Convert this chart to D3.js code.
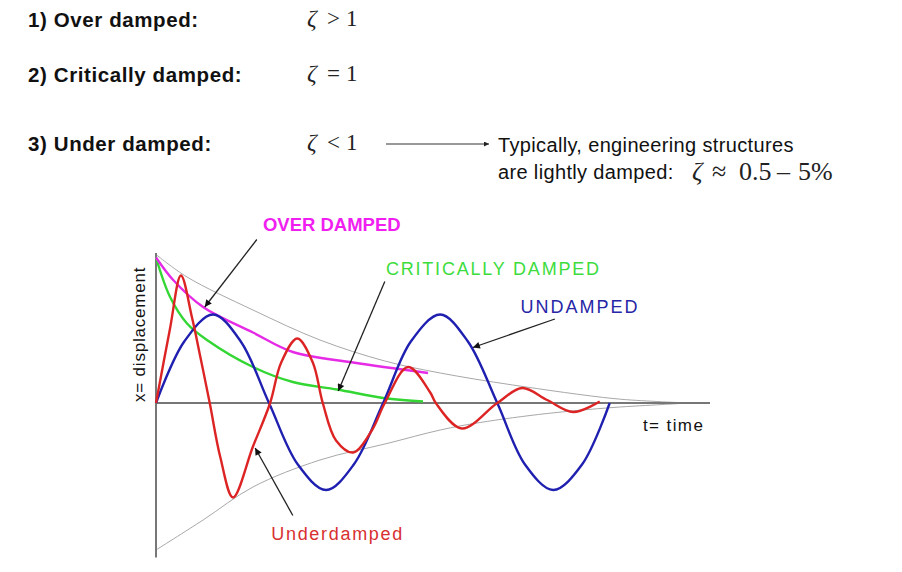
<!DOCTYPE html>
<html>
<head>
<meta charset="utf-8">
<script src="https://cdn.jsdelivr.net/npm/d3@7"></script>
<style>
  body { margin: 0; background: #fff; }
  svg { display: block; }
</style>
</head>
<body>
<div class="graph-center"></div>
<script>
// data (t = time, x = displacement)
let undampedT = [0, 0.51, 1.03, 1.53, 2.04, 2.56, 3.07, 3.57, 4.10, 4.60, 5.13, 5.63, 6.16, 6.66, 7.17, 7.69, 8.19]
let undampedX = [0, 0.41, 0.59, 0.41, 0, -0.41, -0.58, -0.41, 0, 0.41, 0.59, 0.41, 0, -0.41, -0.58, -0.41, 0]

let underT = [0, 0.25, 0.45, 0.65, 0.81, 0.97, 1.16, 1.39, 1.75, 2.06, 2.26, 2.55, 2.83, 3.01, 3.25, 3.56, 3.90, 4.13, 4.55, 4.95, 5.05, 5.52, 6.16, 6.61, 7.06, 7.53, 8.01]
let underX = [0, 0.49, 0.85, 0.57, 0.29, 0, -0.36, -0.63, -0.29, 0, 0.27, 0.43, 0.27, 0, -0.25, -0.33, -0.18, 0, 0.24, 0.07, 0, -0.17, 0, 0.10, 0.02, -0.06, 0.01]

let overT = [0, 0.31, 0.85, 1.75, 2.47, 3.56, 4.91]
let overX = [0.97, 0.82, 0.64, 0.47, 0.34, 0.27, 0.20]

let critT = [0, 0.25, 0.56, 0.92, 1.75, 2.47, 3.27, 4.17, 4.82]
let critX = [0.97, 0.71, 0.53, 0.42, 0.24, 0.14, 0.09, 0.03, 0.01]

let envUpT = [0, 0.56, 1.75, 2.96, 4.13, 5.13, 6.44, 8.25, 9.04, 9.6]
let envUpX = [0.99, 0.84, 0.62, 0.42, 0.28, 0.20, 0.12, 0.03, 0.01, 0]
let envLoT = [0, 0.85, 1.75, 2.96, 4.17, 5.13, 5.85, 7.06, 8.25, 9.15, 9.6]
let envLoX = [-0.98, -0.78, -0.56, -0.38, -0.27, -0.18, -0.13, -0.07, -0.03, -0.01, 0]

// labels: text, colour, anchor position (t, x)
let labels = [
  {text: 'OVER DAMPED', color: '#f01ef0', t: 1.93, x: 1.147, bold: true, size: 18.5, ls: 0},
  {text: 'CRITICALLY DAMPED', color: '#3ddc3d', t: 4.15, x: 0.853, bold: false, size: 18, ls: 1.8},
  {text: 'UNDAMPED', color: '#2626a6', t: 6.58, x: 0.60, bold: false, size: 18, ls: 2},
  {text: 'Underdamped', color: '#d83030', t: 2.08, x: -0.91, bold: false, size: 18, ls: 1.7}
]

// annotation arrows: from (t0,x0) to tip (t1,x1)
let arrows = [
  {t0: 1.82, x0: 1.09, t1: 0.88, x1: 0.64},
  {t0: 4.13, x0: 0.81, t1: 3.29, x1: 0.08},
  {t0: 7.20, x0: 0.56, t1: 5.72, x1: 0.37},
  {t0: 2.47, x0: -0.75, t1: 1.79, x1: -0.30}
]

let svgWidth = 902
let svgHeight = 572

let svg = d3.select('.graph-center')
    .append('svg')
    .attr('width', svgWidth)
    .attr('height', svgHeight)

let defs = svg.append('defs')
defs.append('marker')
    .attr('id', 'head')
    .attr('viewBox', '0 0 10 10')
    .attr('refX', 10).attr('refY', 5)
    .attr('markerWidth', 11).attr('markerHeight', 7)
    .attr('markerUnits', 'userSpaceOnUse')
    .attr('orient', 'auto')
    .append('path')
    .attr('d', 'M0,0 L10,5 L0,10 Z')
    .attr('fill', '#111')
defs.append('marker')
    .attr('id', 'headSmall')
    .attr('viewBox', '0 0 10 10')
    .attr('refX', 10).attr('refY', 5)
    .attr('markerWidth', 9).attr('markerHeight', 5)
    .attr('markerUnits', 'userSpaceOnUse')
    .attr('orient', 'auto')
    .append('path')
    .attr('d', 'M0,0 L10,5 L0,10 Z')
    .attr('fill', '#222')

// ---------- header text ----------
let sans = "'Liberation Sans', Arial, sans-serif"
let serif = "'Liberation Serif', 'Times New Roman', serif"

let heads = [
  {text: '1) Over damped:', y: 27, op: '>'},
  {text: '2) Critically damped:', y: 82, op: '='},
  {text: '3) Under damped:', y: 151, op: '<'}
]
heads.forEach(h => {
  svg.append('text')
      .attr('x', 28).attr('y', h.y)
      .attr('font-family', sans).attr('font-weight', 'bold')
      .attr('font-size', 20.5).attr('letter-spacing', 0.6)
      .attr('fill', '#111')
      .text(h.text)
  svg.append('text')
      .attr('x', 307).attr('y', h.y - 1)
      .attr('font-family', serif).attr('font-size', 24)
      .attr('font-style', 'italic')
      .attr('fill', '#222')
      .text('ζ')
  svg.append('text')
      .attr('x', 327).attr('y', h.y - 1)
      .attr('font-family', serif).attr('font-size', 23)
      .attr('fill', '#222')
      .text(h.op)
  svg.append('text')
      .attr('x', 346).attr('y', h.y - 1)
      .attr('font-family', serif).attr('font-size', 23)
      .attr('fill', '#222')
      .text('1')
})

svg.append('line')
    .attr('x1', 386).attr('x2', 489)
    .attr('y1', 144).attr('y2', 144)
    .attr('stroke', '#333').attr('stroke-width', 1)
    .attr('marker-end', 'url(#headSmall)')

svg.append('text')
    .attr('x', 498).attr('y', 152)
    .attr('font-family', sans).attr('font-size', 20)
    .attr('letter-spacing', 0.35)
    .attr('fill', '#111')
    .text('Typically, engineering structures')
svg.append('text')
    .attr('x', 498).attr('y', 179)
    .attr('font-family', sans).attr('font-size', 20)
    .attr('letter-spacing', 0.35)
    .attr('fill', '#111')
    .text('are lightly damped:')

let zParts = [
  {s: 'ζ', x: 692, italic: true},
  {s: '≈', x: 712, italic: false},
  {s: '0.5', x: 739, italic: false},
  {s: '–', x: 777, italic: false},
  {s: '5%', x: 798, italic: false}
]
zParts.forEach(p => {
  svg.append('text')
      .attr('x', p.x).attr('y', 180)
      .attr('font-family', serif).attr('font-size', 26)
      .attr('font-style', p.italic ? 'italic' : 'normal')
      .attr('fill', '#222')
      .text(p.s)
})

// ---------- chart ----------
let xScale = d3.scaleLinear().domain([0, 10]).range([156, 710])
let yScale = d3.scaleLinear().domain([-1, 1]).range([553, 253])

let line = d3.line()
    .x(d => xScale(d[0]))
    .y(d => yScale(d[1]))
    .curve(d3.curveCatmullRom.alpha(0.5))

let zipped = (ts, xs) => ts.map((t, i) => [t, xs[i]])

// envelopes
svg.append('path')
    .attr('d', line(zipped(envUpT, envUpX)))
    .attr('fill', 'none').attr('stroke', '#a8a8a8').attr('stroke-width', 1)
svg.append('path')
    .attr('d', line(zipped(envLoT, envLoX)))
    .attr('fill', 'none').attr('stroke', '#a8a8a8').attr('stroke-width', 1)

// axes
svg.append('line')
    .attr('x1', xScale(0)).attr('x2', xScale(0))
    .attr('y1', yScale(1.0)).attr('y2', yScale(-1.03))
    .attr('stroke', '#777').attr('stroke-width', 2)
svg.append('line')
    .attr('x1', xScale(0)).attr('x2', xScale(10))
    .attr('y1', yScale(0)).attr('y2', yScale(0))
    .attr('stroke', '#777').attr('stroke-width', 2)

let series = [
  {t: critT, x: critX, color: '#33d633'},
  {t: overT, x: overX, color: '#e62be6'},
  {t: undampedT, x: undampedX, color: '#1f1fb0'},
  {t: underT, x: underX, color: '#dd2424'}
]
series.forEach(s => {
  svg.append('path')
      .attr('d', line(zipped(s.t, s.x)))
      .attr('fill', 'none')
      .attr('stroke', s.color)
      .attr('stroke-width', 2.4)
      .attr('stroke-linejoin', 'round')
})

// annotation arrows
arrows.forEach(a => {
  svg.append('line')
      .attr('x1', xScale(a.t0)).attr('y1', yScale(a.x0))
      .attr('x2', xScale(a.t1)).attr('y2', yScale(a.x1))
      .attr('stroke', '#222').attr('stroke-width', 1.3)
      .attr('marker-end', 'url(#head)')
})

labels.forEach(l => {
  svg.append('text')
      .attr('x', xScale(l.t)).attr('y', yScale(l.x))
      .attr('font-family', sans)
      .attr('font-weight', l.bold ? 'bold' : 'normal')
      .attr('font-size', l.size)
      .attr('letter-spacing', l.ls)
      .attr('fill', l.color)
      .text(l.text)
})

// axis titles
svg.append('text')
    .attr('x', 643).attr('y', 431)
    .attr('font-family', sans).attr('font-size', 17)
    .attr('letter-spacing', 1.4)
    .attr('fill', '#111')
    .text('t= time')

svg.append('text')
    .attr('transform', 'translate(145,402) rotate(-90)')
    .attr('font-family', sans).attr('font-size', 17)
    .attr('letter-spacing', 0.8)
    .attr('fill', '#111')
    .text('x= displacement')
</script>
</body>
</html>
